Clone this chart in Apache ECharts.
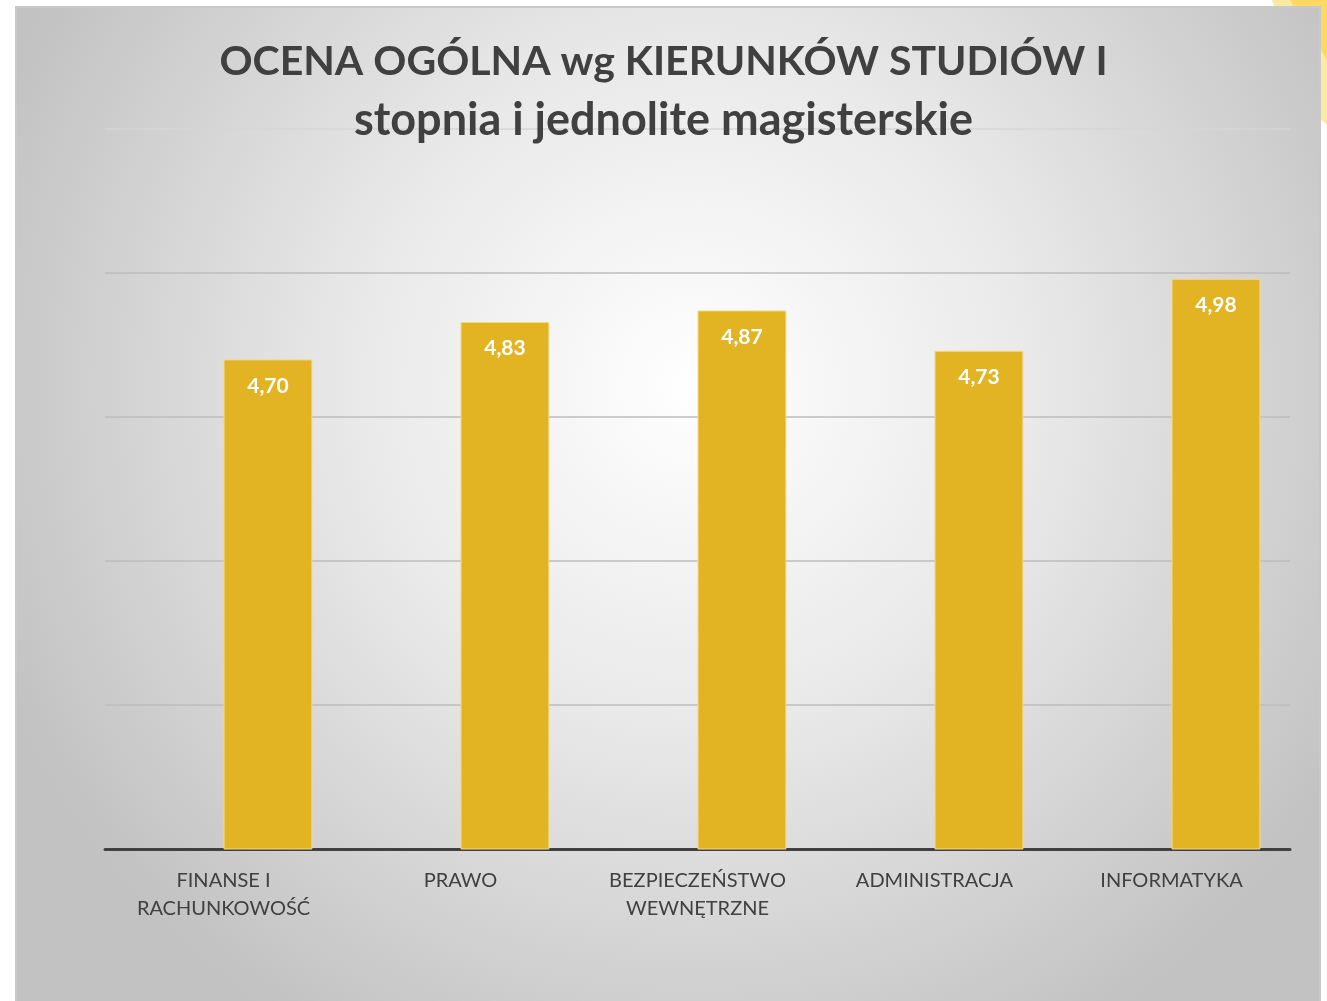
<!DOCTYPE html>
<html>
<head>
<meta charset="utf-8">
<script src="https://cdn.jsdelivr.net/npm/echarts@6/dist/echarts.min.js"></script>
<style>
  html, body { margin: 0; padding: 0; background: #fff; }
  #main { width: 1327px; height: 1001px; }
</style>
</head>
<body>
<div id="main"></div>
<script>
const categories = ['FINANSE I\nRACHUNKOWOŚĆ', 'PRAWO', 'BEZPIECZEŃSTWO\nWEWNĘTRZNE', 'ADMINISTRACJA', 'INFORMATYKA'];
const scores = [4.70, 4.83, 4.87, 4.73, 4.98];
const emptySlot = [null, null, null, null, null];

const chart = echarts.init(document.getElementById('main'));

const option = {
  backgroundColor: '#ffffff',
  textStyle: { fontFamily: 'Lato, "Open Sans", sans-serif' },
  graphic: [
    // yellow decoration peeking out at top right
    { type: 'polygon', z: -20, silent: true,
      shape: { points: [[1272, 0], [1327, 0], [1327, 125], [1310, 110]] },
      style: { fill: '#fde9a6' } },
    { type: 'polygon', z: -19, silent: true,
      shape: { points: [[1290, 0], [1327, 0], [1327, 60]] },
      style: { fill: '#ffd966' } },
    // panel with radial grey gradient
    { type: 'rect', z: -10, silent: true,
      shape: { x: 16, y: 7, width: 1304, height: 1000 },
      style: {
        fill: new echarts.graphic.RadialGradient(0.52, 0.38, 0.75, [
          { offset: 0, color: '#ffffff' },
          { offset: 0.45, color: '#e9e9e9' },
          { offset: 1, color: '#c2c2c2' }
        ]),
        stroke: '#c9c9c9', lineWidth: 2
      } }
  ],
  title: {
    text: '{a|OCENA OGÓLNA wg KIERUNKÓW STUDIÓW I}\n{b|stopnia i jednolite magisterskie}',
    left: 'center',
    top: 27,
    textStyle: {
      rich: {
        a: { fontSize: 41, fontWeight: 'bold', color: '#404040', lineHeight: 59, align: 'center',
          fontFamily: 'Lato, "Open Sans", sans-serif' },
        b: { fontSize: 45, fontWeight: 'bold', color: '#404040', lineHeight: 59, align: 'center',
          fontFamily: 'Lato, "Open Sans", sans-serif' }
      }
    }
  },
  grid: { left: 105, right: 37, top: 129, bottom: 152 },
  xAxis: {
    type: 'category',
    data: categories,
    axisLine: { lineStyle: { color: '#404040', width: 3 } },
    axisTick: { show: false },
    axisLabel: { fontSize: 20, color: '#404040', margin: 18, lineHeight: 28, interval: 0 }
  },
  yAxis: {
    type: 'value',
    min: 3, max: 5.5, interval: 0.5,
    axisLabel: { show: false },
    axisLine: { show: false },
    axisTick: { show: false },
    splitLine: { lineStyle: { color: ['#bdbdbd', '#bdbdbd', '#bdbdbd', '#bdbdbd', '#bdbdbd', '#d6d6d6'], width: 1.5 } }
  },
  series: [
    { type: 'bar', data: emptySlot, barGap: '0%', barCategoryGap: '25%' },
    {
      type: 'bar',
      data: scores,
      barGap: '0%',
      barCategoryGap: '25%',
      itemStyle: { color: '#e2b424', borderColor: '#f3d98a', borderWidth: 1 },
      label: {
        show: true,
        position: 'insideTop',
        distance: 16,
        color: '#ffffff',
        fontSize: 21,
        fontWeight: 'bold',
        formatter: p => p.value.toFixed(2).replace('.', ',')
      }
    }
  ]
};

chart.setOption(option);
</script>
</body>
</html>
